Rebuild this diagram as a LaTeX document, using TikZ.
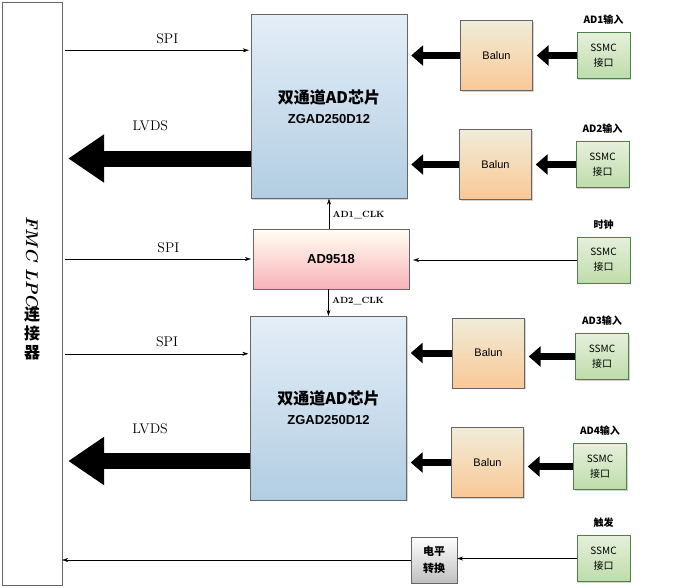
\documentclass[tikz,border=0pt]{standalone}
\usepackage{fontspec}
\newfontfamily\cjk{Noto Sans CJK SC}
\newfontfamily\sans{Liberation Sans}
\usetikzlibrary{arrows.meta,shadows}
\definecolor{adctop}{RGB}{228,238,247}
\definecolor{adcbot}{RGB}{178,205,226}
\definecolor{baltop}{RGB}{240,236,216}
\definecolor{balbot}{RGB}{250,200,150}
\definecolor{ssmctop}{RGB}{230,240,220}
\definecolor{ssmcbot}{RGB}{190,220,170}
\begin{document}
\begin{tikzpicture}[x=1pt, y=-1pt,
		box/.style={draw=gray!80!black, thin, drop shadow={opacity=0.35, shadow xshift=1.2pt, shadow yshift=-1.2pt}, align=center, inner sep=0pt},
		adc/.style={box, top color=adctop, bottom color=adcbot, minimum width=156pt, minimum height=184pt, font=\sans\bfseries\fontsize{13}{20}\selectfont},
		balun/.style={box, top color=baltop, bottom color=balbot, minimum width=72pt, minimum height=70pt, font=\sans\fontsize{11}{13}\selectfont},
		ssmc/.style={box, draw=green!25!gray!80!black, top color=ssmctop, bottom color=ssmcbot, minimum width=53pt, minimum height=46pt, font=\cjk\fontsize{10}{15}\selectfont},
		lab/.style={font=\cjk\bfseries\fontsize{10}{12}\selectfont, label distance=4pt},
		sig/.style={-{Stealth[length=6pt,width=4pt]}, thin},
		fat/.style={-{Triangle[length=12pt,width=20pt]}, line width=7pt, shorten >=4pt},
		wide/.style={-{Triangle[length=36pt,width=46pt]}, line width=16pt}]
		\useasboundingbox (0,0) rectangle (686,587);

		% left connector
		\node[draw=gray!80!black, thin, minimum width=60pt, minimum height=583pt] (fmc) at (32,293.5) {};
		\node[rotate=-90, font=\itshape\bfseries\fontsize{17}{17}\selectfont] (fmct) at (32,262) {FMC LPC};
		\node[align=center, font=\cjk\bfseries\fontsize{16}{19}\selectfont] (fmcc) at (32,333) {连\\接\\器};

		% chips
		\node[adc] (adc1) at (329,106.5) {{\cjk\fontsize{16}{20}\selectfont 双通道AD芯片}\\ZGAD250D12};
		\node[adc] (adc2) at (328.5,408) {{\cjk\fontsize{16}{20}\selectfont 双通道AD芯片}\\ZGAD250D12};
		\node[box, top color=yellow!5!white, bottom color=purple!35!red!30, minimum width=156pt, minimum height=60pt, font=\sans\bfseries\fontsize{13}{15}\selectfont] (clk) at (331,259) {AD9518};
		\node[box, top color=white, bottom color=gray!50, minimum width=46pt, minimum height=46pt, font=\cjk\bfseries\fontsize{11}{17}\selectfont] (lvl) at (434,560) {电平\\转换};

		\node[balun] (b1) at (496.5,55.5) {Balun};
		\node[balun] (b2) at (495.5,164.5) {Balun};
		\node[balun] (b3) at (488.5,353) {Balun};
		\node[balun] (b4) at (487.5,462.5) {Balun};

		\node[ssmc, label={[lab]above:AD1输入}] (s1) at (603.5,55.5) {SSMC\\接口};
		\node[ssmc, label={[lab]above:AD2输入}] (s2) at (602.5,164.5) {SSMC\\接口};
		\node[ssmc, label={[lab]above:时钟}] (sc) at (603.5,260) {SSMC\\接口};
		\node[ssmc, label={[lab]above:AD3输入}] (s3) at (602,356.5) {SSMC\\接口};
		\node[ssmc, label={[lab]above:AD4输入}] (s4) at (600,466.5) {SSMC\\接口};
		\node[ssmc, label={[lab]above:触发}] (st) at (603.5,558.5) {SSMC\\接口};

		% inputs
		\foreach \s/\b/\a in {s1/b1/adc1, s2/b2/adc1, s3/b3/adc2, s4/b4/adc2} {
			\draw[fat] (\s.west) -- (\s.west -| \b.east);
			\draw[fat] (\b.west) -- (\b.west -| \a.east);
		}
		\draw[sig, shorten >=4pt] (sc.west) -- (sc.west -| clk.east);
		\draw[sig] (st.west) -- (st.west -| lvl.east);
		\draw[sig] (lvl.west) -- (lvl.west -| fmc.east);

		% clocks
		\draw[sig] (clk.north -| adc1.south) -- (adc1.south) node[pos=0.45, right, font=\bfseries\fontsize{9}{10}\selectfont] {AD1\_CLK};
		\draw[sig] (clk.south -| adc2.north) -- (adc2.north) node[pos=0.45, right, font=\bfseries\fontsize{9}{10}\selectfont] {AD2\_CLK};

		% spi and lvds
		\coordinate (p1) at ([yshift=-36pt]adc1.north west);
		\coordinate (p2) at (clk.west);
		\coordinate (p3) at ([yshift=-38pt]adc2.north west);
		\foreach \p in {p1,p2,p3}
			\draw[sig, shorten >=2pt] ([xshift=3pt]fmc.east |- \p) -- (\p) node[pos=0.55, above=3pt, font=\fontsize{14}{14}\selectfont] {SPI};
		\coordinate (q1) at ([yshift=-52pt]adc1.west);
		\coordinate (q2) at ([yshift=-53pt]adc2.west);
		\foreach \q in {q1,q2}
			\draw[wide] (\q) -- ([xshift=6pt]fmc.east |- \q) node[pos=0.55, above=16pt, font=\fontsize{14}{14}\selectfont] {LVDS};
	\end{tikzpicture}
\end{document}
